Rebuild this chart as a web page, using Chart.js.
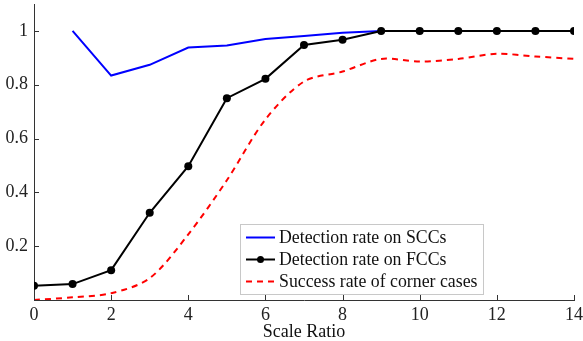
<!DOCTYPE html>
<html>
<head>
<meta charset="utf-8">
<script src="https://cdn.jsdelivr.net/npm/chart.js@4.4.0/dist/chart.umd.min.js"></script>
<style>
  html, body { margin: 0; padding: 0; background: #fff; }
  #wrap { position: relative; width: 583px; height: 341px; }
</style>
</head>
<body>
<div id="wrap"><canvas id="c" width="583" height="341"></canvas></div>
<script>
// ---- data ----
const scaleRatio = [0, 1, 2, 3, 4, 5, 6, 7, 8, 9, 10, 11, 12, 13, 14];
const sccRate = [null, 1.0, 0.834, 0.874, 0.938, 0.946, 0.970, 0.981, 0.993, 1.0, 1.0, 1.0, 1.0, 1.0, 1.0];
const fccRate = [0.053, 0.059, 0.111, 0.324, 0.497, 0.750, 0.822, 0.948, 0.967, 1.0, 1.0, 1.0, 1.0, 1.0, 1.0];
const cornerRate = [0.0, 0.010, 0.025, 0.081, 0.244, 0.445, 0.671, 0.812, 0.849, 0.896, 0.886, 0.896, 0.915, 0.905, 0.896];
const seriesNames = ['Detection rate on SCCs', 'Detection rate on FCCs', 'Success rate of corner cases'];
const xTickValues = [0, 2, 4, 6, 8, 10, 12, 14];
const yTickValues = [0.2, 0.4, 0.6, 0.8, 1];
const yTickLabels = ['0.2', '0.4', '0.6', '0.8', '1'];

const FONT = "'Liberation Serif', 'Times New Roman', serif";
Chart.defaults.font.family = FONT;
Chart.defaults.font.size = 18;
Chart.defaults.color = '#222';

const toPts = arr => scaleRatio.map((x, i) => ({ x: x, y: arr[i] }));

// inside tick marks
const innerTicks = {
  id: 'innerTicks',
  afterDraw(chart) {
    const ctx = chart.ctx, xs = chart.scales.x, ys = chart.scales.y;
    ctx.save();
    ctx.strokeStyle = '#333';
    ctx.lineWidth = 1;
    xs.ticks.forEach(t => {
      const px = Math.round(xs.getPixelForValue(t.value)) + 0.5;
      ctx.beginPath(); ctx.moveTo(px, ys.bottom); ctx.lineTo(px, ys.bottom - 5); ctx.stroke();
    });
    ys.ticks.forEach(t => {
      const py = Math.round(ys.getPixelForValue(t.value)) + 0.5;
      ctx.beginPath(); ctx.moveTo(xs.left, py); ctx.lineTo(xs.left + 5, py); ctx.stroke();
    });
    ctx.restore();
  }
};

// boxed legend inside plot
const boxLegend = {
  id: 'boxLegend',
  afterDatasetsDraw(chart) {
    const ctx = chart.ctx;
    const bx = 240.5, by = 224.5, bw = 243, bh = 70;
    ctx.save();
    ctx.fillStyle = '#fff';
    ctx.fillRect(bx, by, bw, bh);
    ctx.strokeStyle = '#c8c8c8';
    ctx.lineWidth = 1;
    ctx.strokeRect(bx, by, bw, bh);
    const rows = [237.5, 259.5, 281.5];
    chart.data.datasets.forEach((ds, i) => {
      const y = rows[i];
      ctx.save();
      ctx.strokeStyle = ds.borderColor;
      ctx.lineWidth = ds.borderWidth;
      ctx.setLineDash(ds.borderDash || []);
      ctx.beginPath(); ctx.moveTo(246, y); ctx.lineTo(275, y); ctx.stroke();
      ctx.restore();
      if (ds.pointRadius > 0) {
        ctx.fillStyle = ds.pointBackgroundColor;
        ctx.beginPath(); ctx.arc(260.5, y, ds.pointRadius - 0.5, 0, Math.PI * 2); ctx.fill();
      }
      ctx.fillStyle = '#111';
      ctx.font = '17.8px ' + FONT;
      ctx.textBaseline = 'middle';
      ctx.textAlign = 'left';
      ctx.fillText(ds.label, 279, y + 1);
    });
    ctx.restore();
  }
};

new Chart(document.getElementById('c'), {
  type: 'line',
  data: {
    datasets: [
      { label: seriesNames[0], data: toPts(sccRate), borderColor: '#0000ff', borderWidth: 2,
        pointRadius: 0, tension: 0, order: 3, spanGaps: false },
      { label: seriesNames[1], data: toPts(fccRate), borderColor: '#000', borderWidth: 2,
        pointRadius: 4, pointBackgroundColor: '#000', pointBorderColor: '#000', pointBorderWidth: 0,
        tension: 0, order: 1 },
      { label: seriesNames[2], data: toPts(cornerRate), borderColor: '#ff0000', borderWidth: 2,
        borderDash: [6, 5], pointRadius: 0, tension: 0.3, order: 2 }
    ]
  },
  options: {
    responsive: false,
    animation: false,
    events: [],
    layout: { padding: { top: 3, right: 9, left: 0, bottom: 0 } },
    plugins: { legend: { display: false }, tooltip: { enabled: false } },
    scales: {
      x: {
        type: 'linear', min: 0, max: 14,
        afterBuildTicks: s => { s.ticks = xTickValues.map(v => ({ value: v })); },
        afterFit: s => { s.height = 41; s.paddingLeft = 0; s.paddingRight = 0; },
        ticks: { padding: 4, font: { size: 18 }, color: '#222', callback: v => String(v) },
        grid: { display: false, drawTicks: false },
        border: { display: true, color: '#333', width: 1 },
        title: { display: true, text: 'Scale Ratio', font: { size: 18 }, color: '#111', padding: { top: 0, bottom: -2 } }
      },
      y: {
        type: 'linear', min: 0, max: 1.1,
        afterBuildTicks: s => { s.ticks = yTickValues.map(v => ({ value: v })); },
        afterFit: s => { s.width = 34; s.paddingTop = 0; s.paddingBottom = 0; },
        ticks: { padding: 6, font: { size: 18 }, color: '#222',
          callback: (v) => yTickLabels[yTickValues.indexOf(v)] },
        grid: { display: false, drawTicks: false },
        border: { display: true, color: '#333', width: 1 }
      }
    }
  },
  plugins: [innerTicks, boxLegend]
});
</script>
</body>
</html>
